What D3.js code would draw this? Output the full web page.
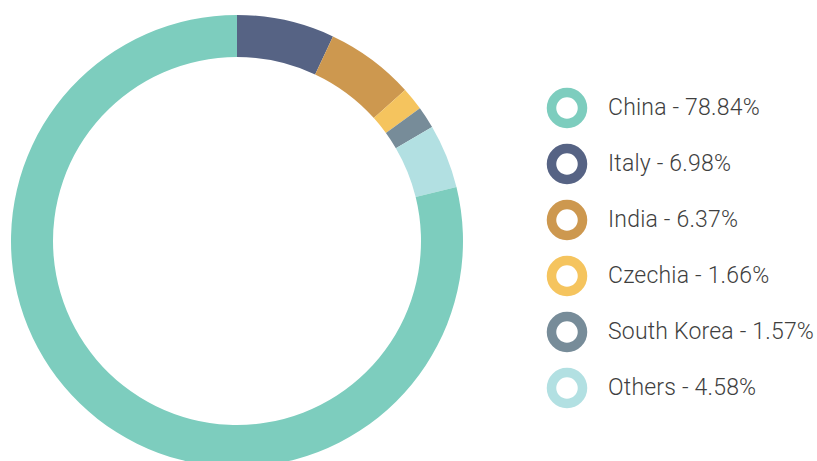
<!DOCTYPE html>
<html>
<head>
<meta charset="utf-8">
<script src="https://cdn.jsdelivr.net/npm/d3@7"></script>
<style>
  body { margin: 0; background: #fff; }
  svg { display: block; }
</style>
</head>
<body>
<svg width="817" height="461"></svg>
<script>
// slices drawn clockwise from 12 o'clock, China last
const countries = ['Italy', 'India', 'Czechia', 'South Korea', 'Others', 'China'];
const shares = [6.98, 6.37, 1.66, 1.57, 4.58, 78.84];
const colors = ['#566384', '#cd984f', '#f5c45e', '#778c99', '#b2e0e2', '#7dcdbe'];
// legend lists China first
const legendOrder = ['China', 'Italy', 'India', 'Czechia', 'South Korea', 'Others'];

document.addEventListener('DOMContentLoaded', () => {
    const svg = d3.select('svg');
    const data = countries.map((c, i) => ({ name: c, value: shares[i] }));
    const color = d3.scaleOrdinal().domain(countries).range(colors);

    const pie = d3.pie().sort(null).value(d => d.value);
    const arc = d3.arc().innerRadius(184).outerRadius(226);

    const donut = svg.append('g')
        .attr('transform', 'translate(237,241)');

    donut.selectAll('path')
        .data(pie(data))
        .enter()
        .append('path')
        .attr('d', arc)
        .attr('fill', d => color(d.data.name));

    // legend
    const y = d3.scalePoint().domain(legendOrder).range([108, 388]);
    const legend = svg.append('g');

    const items = legend.selectAll('g')
        .data(legendOrder)
        .enter()
        .append('g')
        .attr('transform', d => `translate(567,${y(d)})`);

    items.append('circle')
        .attr('r', 15.5)
        .attr('fill', 'none')
        .attr('stroke', d => color(d))
        .attr('stroke-width', 9.5);

    items.append('text')
        .attr('x', 41)
        .attr('y', 6.5)
        .attr('font-family', 'Roboto, sans-serif')
        .attr('font-weight', 300)
        .attr('font-size', 23)
        .attr('letter-spacing', 0.2)
        .attr('fill', '#3f3f3f')
        .text(d => `${d} - ${shares[countries.indexOf(d)].toFixed(2)}%`);
});
</script>
</body>
</html>
